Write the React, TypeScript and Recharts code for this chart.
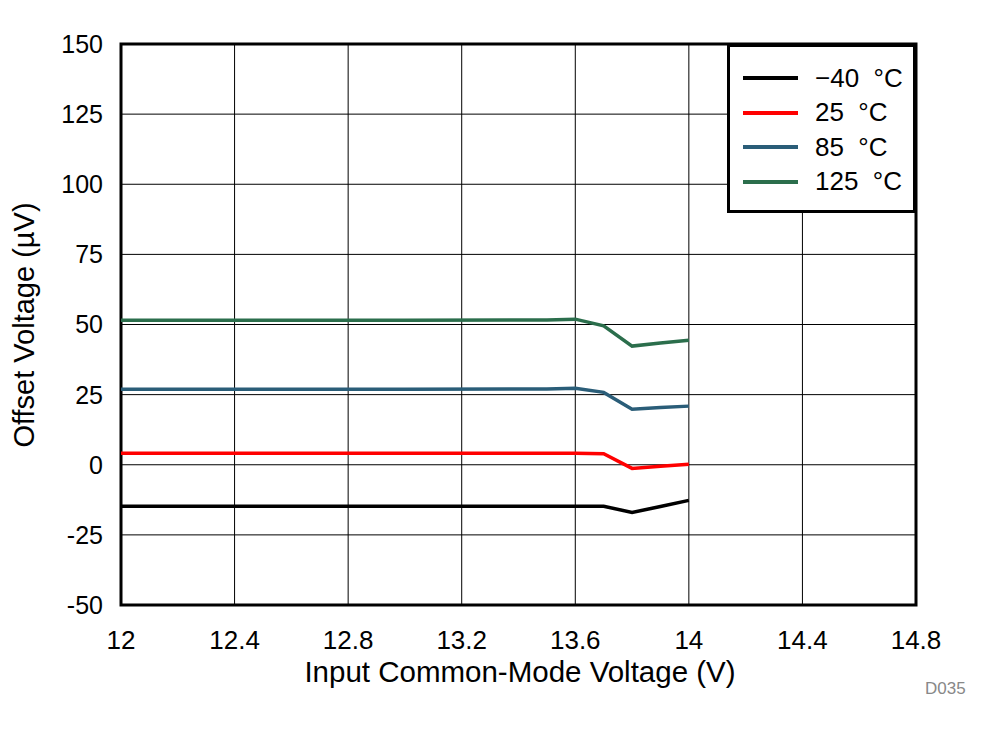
import * as React from 'react';
import { LineChart, Line, XAxis, YAxis, CartesianGrid, ReferenceArea } from 'recharts';

const vcm = [12, 12.5, 13, 13.5, 13.6, 13.7, 13.8, 13.9, 14];
const tM40 = [-14.8, -14.8, -14.8, -14.8, -14.8, -14.8, -17, -14.9, -12.7];
const t25 = [4.1, 4.1, 4.1, 4.1, 4.1, 3.9, -1.3, -0.5, 0.2];
const t85 = [26.9, 26.9, 26.9, 27.0, 27.3, 25.8, 19.8, 20.4, 20.9];
const t125 = [51.5, 51.5, 51.5, 51.6, 51.9, 49.5, 42.3, 43.4, 44.4];

const xTicks = [12, 12.4, 12.8, 13.2, 13.6, 14, 14.4, 14.8];
const yTicks = [-50, -25, 0, 25, 50, 75, 100, 125, 150];

const series = [
  { key: 'm40', name: '\u221240', color: '#000000' },
  { key: 't25', name: '25', color: '#ff0000' },
  { key: 't85', name: '85', color: '#2a5d78' },
  { key: 't125', name: '125', color: '#2b6e4c' },
];

const data = vcm.map((v, i) => ({ v, m40: tM40[i], t25: t25[i], t85: t85[i], t125: t125[i] }));

const font = '"Liberation Sans", Arial, sans-serif';

function LegendBox() {
  return (
    <div style={{ position: 'absolute', left: 727, top: 44, width: 183, height: 163, border: '3px solid #000', background: '#fff', fontFamily: font, fontSize: 26 }}>
      {series.map((s, i) => (
        <div key={s.key} style={{ position: 'absolute', left: 13, top: 16 + i * 34.5, display: 'flex', alignItems: 'center', height: 30 }}>
          <div style={{ width: 55, height: 4, background: s.color }} />
          <span style={{ marginLeft: 17, color: '#000', whiteSpace: 'pre' }}>{s.name}{'  \u00b0C'}</span>
        </div>
      ))}
    </div>
  );
}

export default function App() {
  return (
    <div style={{ position: 'absolute', left: 0, top: 0, width: 998, height: 734, background: '#fff' }}>
      <LineChart width={998} height={734} data={data} margin={{ top: 44, right: 82, left: 61, bottom: 89 }}>
        <CartesianGrid stroke="#000" strokeWidth={1} horizontalValues={yTicks} verticalValues={xTicks} />
        <XAxis dataKey="v" type="number" domain={[12, 14.8]} ticks={xTicks} allowDecimals
          axisLine={false} tickLine={false} height={40}
          tick={{ fill: '#000', fontSize: 26, fontFamily: font }} tickMargin={20} />
        <YAxis type="number" domain={[-50, 150]} ticks={yTicks} width={60}
          axisLine={false} tickLine={false}
          tick={{ fill: '#000', fontSize: 25, fontFamily: font }} tickMargin={12} />
        <ReferenceArea x1={12} x2={14.8} y1={-50} y2={150} fill="none" stroke="#000" strokeWidth={3} ifOverflow="visible" />
        {series.map(s => (
          <Line key={s.key} dataKey={s.key} name={s.name} stroke={s.color} strokeWidth={3.5} dot={false} type="linear" isAnimationActive={false} />
        ))}
      </LineChart>
      <LegendBox />
      <div style={{ position: 'absolute', left: 0, width: 1040, top: 655, textAlign: 'center', fontFamily: font, fontSize: 29.5, color: '#000', whiteSpace: 'nowrap' }}>
        Input Common-Mode Voltage (V)
      </div>
      <div style={{ position: 'absolute', left: 24, top: 325, width: 0, height: 0 }}>
        <div style={{ position: 'absolute', transform: 'translate(-50%, -50%) rotate(-90deg)', fontFamily: font, fontSize: 29, color: '#000', whiteSpace: 'nowrap' }}>
          Offset Voltage ({'\u00b5'}V)
        </div>
      </div>
      <div style={{ position: 'absolute', left: 925, top: 679, fontFamily: font, fontSize: 17, color: '#888' }}>D035</div>
    </div>
  );
}
